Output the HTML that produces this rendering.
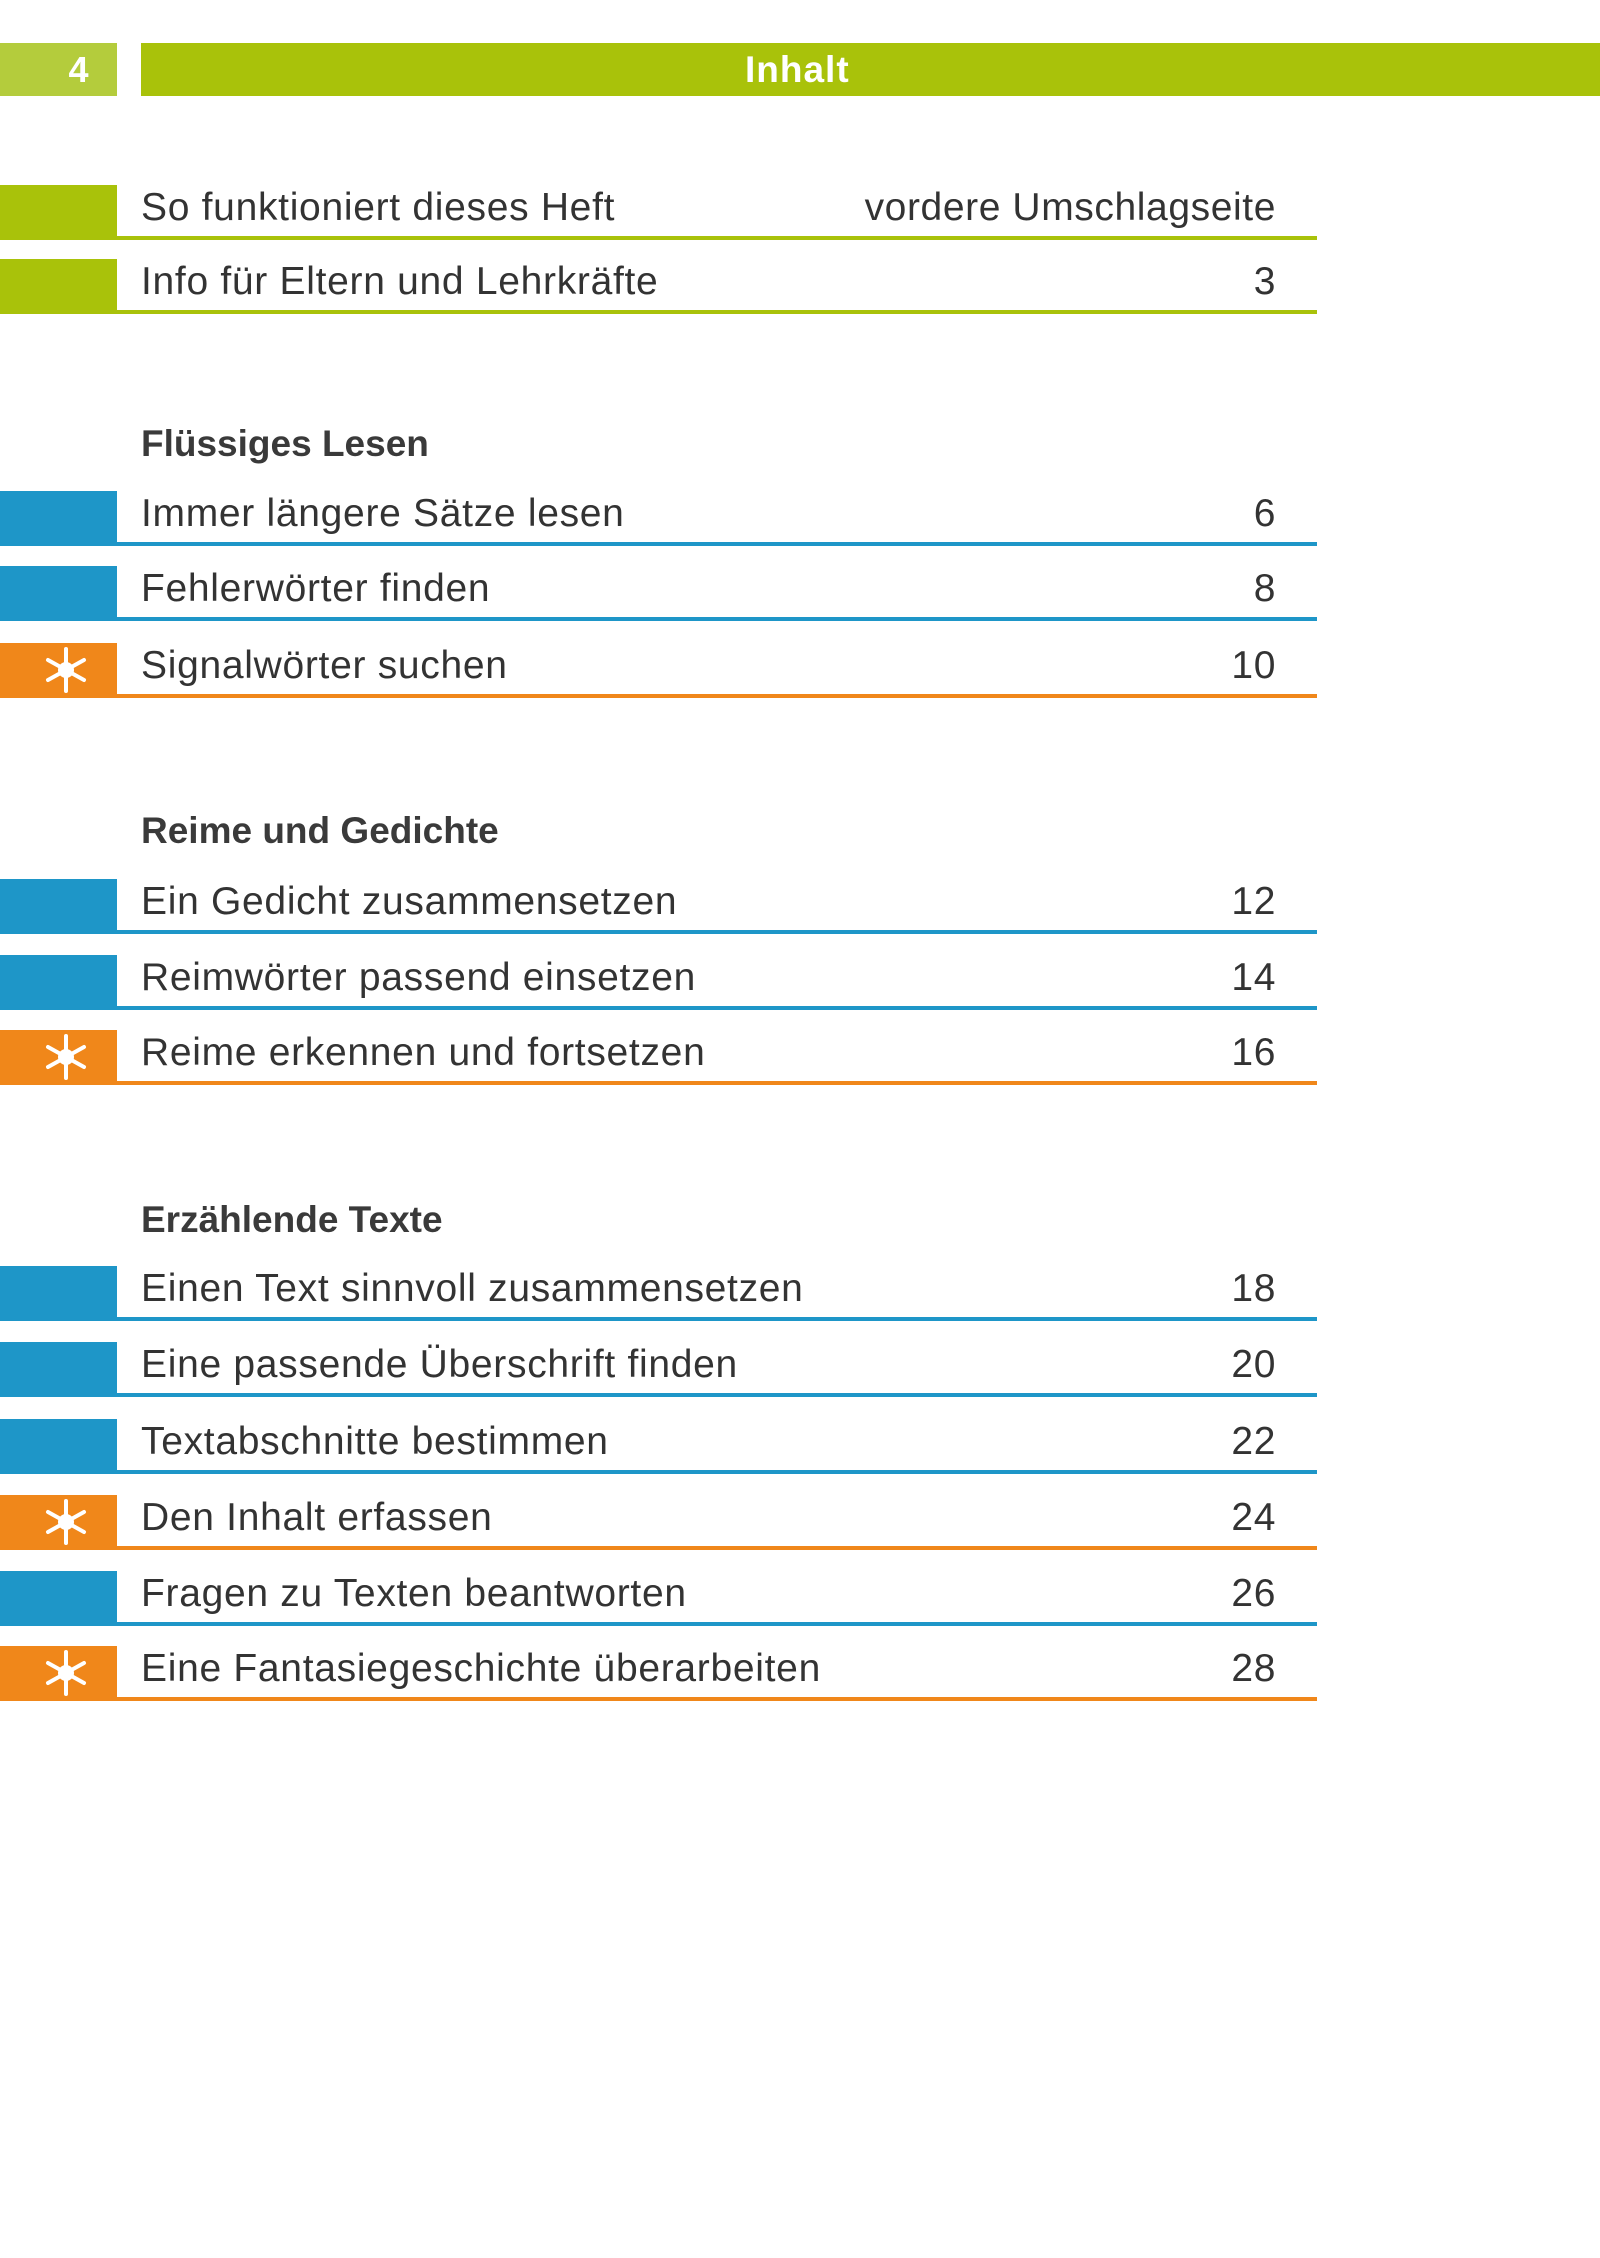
<!DOCTYPE html>
<html><head><meta charset="utf-8"><style>
body{margin:0;width:1600px;height:2258px;background:#fff;position:relative;overflow:hidden;font-family:"Liberation Sans",sans-serif;color:#333}
.a{position:absolute}
.t{position:absolute;left:141px;font-size:39px;letter-spacing:0.7px;line-height:1;white-space:nowrap}
.n{position:absolute;right:324px;font-size:39px;letter-spacing:0.6px;line-height:1;text-align:right}
.h{position:absolute;left:141px;font-size:37px;font-weight:bold;line-height:1;color:#3a3a3a}
</style></head><body>
<div class="a" style="left:0;top:43px;width:117px;height:53px;background:#b4cc3c"></div>
<div class="a" style="left:0;top:43px;width:117px;height:53px;line-height:53px;text-align:center;color:#fff;font-weight:bold;font-size:36px;padding-left:40px;box-sizing:border-box">4</div>
<div class="a" style="left:141px;top:43px;width:1459px;height:53px;background:#a9c20a;color:#fff;font-weight:bold;font-size:37px;line-height:53px;box-sizing:border-box"><span style="position:absolute;left:604px;letter-spacing:1px">Inhalt</span></div>
<svg width="0" height="0" style="position:absolute"><defs><g id="st"><g stroke="#fff" stroke-width="4" stroke-linecap="round"><line x1="0" y1="-21" x2="0" y2="21"/><line x1="-18" y1="-10" x2="18" y2="10"/><line x1="-18" y1="10" x2="18" y2="-10"/></g><circle r="8" fill="#fff"/></g></defs></svg>
<div id="rows"></div>
<script>
var rows=[
[238,'g','So funktioniert dieses Heft','vordere Umschlagseite'],
[312,'g','Info für Eltern und Lehrkräfte','3'],
[544,'b','Immer längere Sätze lesen','6'],
[619,'b','Fehlerwörter finden','8'],
[696,'o','Signalwörter suchen','10'],
[932,'b','Ein Gedicht zusammensetzen','12'],
[1008,'b','Reimwörter passend einsetzen','14'],
[1083,'o','Reime erkennen und fortsetzen','16'],
[1319,'b','Einen Text sinnvoll zusammensetzen','18'],
[1395,'b','Eine passende Überschrift finden','20'],
[1472,'b','Textabschnitte bestimmen','22'],
[1548,'o','Den Inhalt erfassen','24'],
[1624,'b','Fragen zu Texten beantworten','26'],
[1699,'o','Eine Fantasiegeschichte überarbeiten','28']];
var c={g:'#a9c20a',b:'#1e96c8',o:'#f0871a'};
var h='';
rows.forEach(function(r){var y=r[0],col=c[r[1]];
h+='<div class="a" style="left:0;top:'+(y-53)+'px;width:117px;height:55px;background:'+col+'"></div>';
h+='<div class="a" style="left:117px;top:'+(y-2)+'px;width:1200px;height:4px;background:'+col+'"></div>';
h+='<div class="t" style="top:'+(y-50)+'px">'+r[2]+'</div>';
h+='<div class="n" style="top:'+(y-50)+'px">'+r[3]+'</div>';
if(r[1]=='o')h+='<svg class="a" style="left:36px;top:'+(y-56)+'px" width="60" height="60"><use href="#st" x="30" y="30"/></svg>';
});
[[455,'Flüssiges Lesen'],[842,'Reime und Gedichte'],[1231,'Erzählende Texte']].forEach(function(x){
h+='<div class="h" style="top:'+(x[0]-30)+'px">'+x[1]+'</div>';});
document.getElementById('rows').innerHTML=h;
</script>
</body></html>
